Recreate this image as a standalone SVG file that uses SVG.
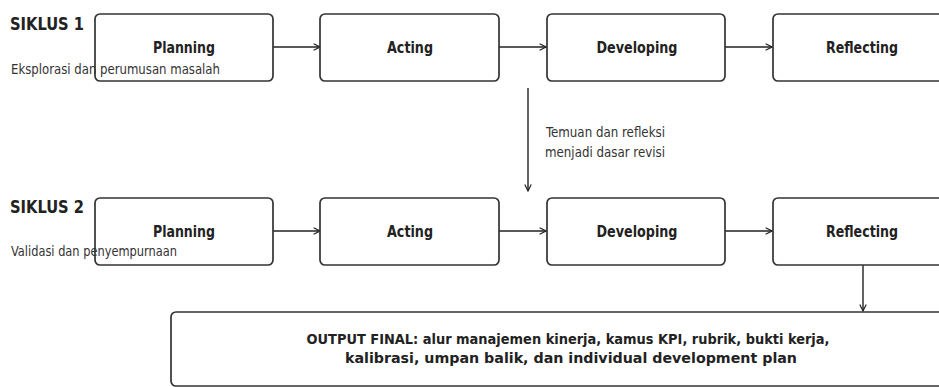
<svg xmlns="http://www.w3.org/2000/svg" width="939" height="387" viewBox="0 0 939 387">
<style>
.box{fill:#fff;stroke:#333;stroke-width:1.7}
text{font-family:"DejaVu Sans Condensed","DejaVu Sans",sans-serif;font-stretch:condensed}
.lbl{font-weight:bold;font-size:15.5px;fill:#222;text-anchor:middle}
.head{font-weight:bold;font-size:18px;fill:#222}
.sub{font-size:13.5px;fill:#333}
.out{font-weight:bold;font-size:14px;fill:#222;text-anchor:middle}
.edge{stroke:#222;stroke-width:1.4;fill:none;marker-end:url(#ah)}
</style>
<defs>
<marker id="ah" viewBox="0 0 10 10" refX="9" refY="5" markerWidth="8" markerHeight="8" markerUnits="userSpaceOnUse" orient="auto">
<path d="M1,1 L9,5 L1,9" fill="none" stroke="#222" stroke-width="1.5"/>
</marker>
</defs>
<rect width="939" height="387" fill="#fff"/>
<g id="connectors">
<line class="edge" x1="273" y1="47" x2="320" y2="47"/>
<line class="edge" x1="499" y1="47" x2="546" y2="47"/>
<line class="edge" x1="725" y1="47" x2="772" y2="47"/>
<line class="edge" x1="273" y1="231" x2="320" y2="231"/>
<line class="edge" x1="499" y1="231" x2="546" y2="231"/>
<line class="edge" x1="725" y1="231" x2="772" y2="231"/>
<line class="edge" x1="528" y1="88" x2="528" y2="191"/>
<line class="edge" x1="863" y1="265" x2="863" y2="311"/>
<text class="sub" x="546" y="137" textLength="119" lengthAdjust="spacingAndGlyphs">Temuan dan refleksi</text>
<text class="sub" x="545" y="157" textLength="120" lengthAdjust="spacingAndGlyphs">menjadi dasar revisi</text>
</g>
<g id="siklus1">
<text class="head" x="10" y="30" textLength="74" lengthAdjust="spacingAndGlyphs">SIKLUS 1</text>
</g>
<g id="p1"><rect class="box" x="95" y="14" width="178" height="67" rx="5"/><text class="lbl" x="184" y="53" textLength="62" lengthAdjust="spacingAndGlyphs">Planning</text></g>
<g id="sub1"><text class="sub" x="11" y="74" textLength="209" lengthAdjust="spacingAndGlyphs">Eksplorasi dan perumusan masalah</text></g>
<g id="a1"><rect class="box" x="320" y="14" width="179" height="67" rx="5"/><text class="lbl" x="410" y="53" textLength="46" lengthAdjust="spacingAndGlyphs">Acting</text></g>
<g id="d1"><rect class="box" x="547" y="14" width="178" height="67" rx="5"/><text class="lbl" x="637" y="53" textLength="81" lengthAdjust="spacingAndGlyphs">Developing</text></g>
<g id="r1"><rect class="box" x="773" y="14" width="180" height="67" rx="5"/><text class="lbl" x="862" y="53" textLength="72" lengthAdjust="spacingAndGlyphs">Reflecting</text></g>
<g id="siklus2">
<text class="head" x="10" y="213" textLength="74" lengthAdjust="spacingAndGlyphs">SIKLUS 2</text>
</g>
<g id="p2"><rect class="box" x="95" y="198" width="178" height="67" rx="5"/><text class="lbl" x="184" y="237" textLength="62" lengthAdjust="spacingAndGlyphs">Planning</text></g>
<g id="sub2"><text class="sub" x="11" y="256" textLength="166" lengthAdjust="spacingAndGlyphs">Validasi dan penyempurnaan</text></g>
<g id="a2"><rect class="box" x="320" y="198" width="179" height="67" rx="5"/><text class="lbl" x="410" y="237" textLength="46" lengthAdjust="spacingAndGlyphs">Acting</text></g>
<g id="d2"><rect class="box" x="547" y="198" width="178" height="67" rx="5"/><text class="lbl" x="637" y="237" textLength="81" lengthAdjust="spacingAndGlyphs">Developing</text></g>
<g id="r2"><rect class="box" x="773" y="198" width="180" height="67" rx="5"/><text class="lbl" x="862" y="237" textLength="72" lengthAdjust="spacingAndGlyphs">Reflecting</text></g>
<g id="output"><rect class="box" x="171" y="312" width="790" height="74" rx="5"/>
<text class="out" x="568" y="344" textLength="523" lengthAdjust="spacingAndGlyphs">OUTPUT FINAL: alur manajemen kinerja, kamus KPI, rubrik, bukti kerja,</text>
<text class="out" x="571" y="363" textLength="452" lengthAdjust="spacingAndGlyphs">kalibrasi, umpan balik, dan individual development plan</text>
</g>
</svg>
